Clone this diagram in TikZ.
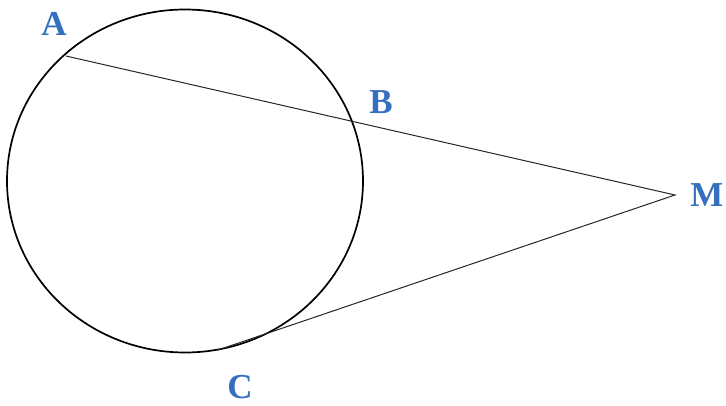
\documentclass[tikz,border=0pt]{standalone}
\usepackage{fontspec}
\setmainfont{Liberation Serif}
\begin{document}
\begin{tikzpicture}[x=1pt,y=-1pt,
  lbl/.style={text=labelblue,font=\fontsize{35}{38}\selectfont\bfseries,inner sep=0pt},
  seg/.style={line width=1pt,black!85},
  circ/.style={line width=1.7pt,black}]
\definecolor{labelblue}{RGB}{52,112,190}
\useasboundingbox (0,0) rectangle (726,406);
\coordinate (O) at (185,181);
\draw[circ] (O) ellipse [x radius=178, y radius=171.5];
\coordinate (Ap) at (66,56);
\coordinate (Mp) at (675,195);
\coordinate (Cp) at (218,350);
\draw[seg] (Ap) -- (Mp) -- (Cp);
\node[lbl] (A) at (54,24) {A};
\node[lbl] (B) at (381,102) {B};
\node[lbl] (M) at (707,195) {M};
\node[lbl] (C) at (240,387) {C};
\end{tikzpicture}
\end{document}
